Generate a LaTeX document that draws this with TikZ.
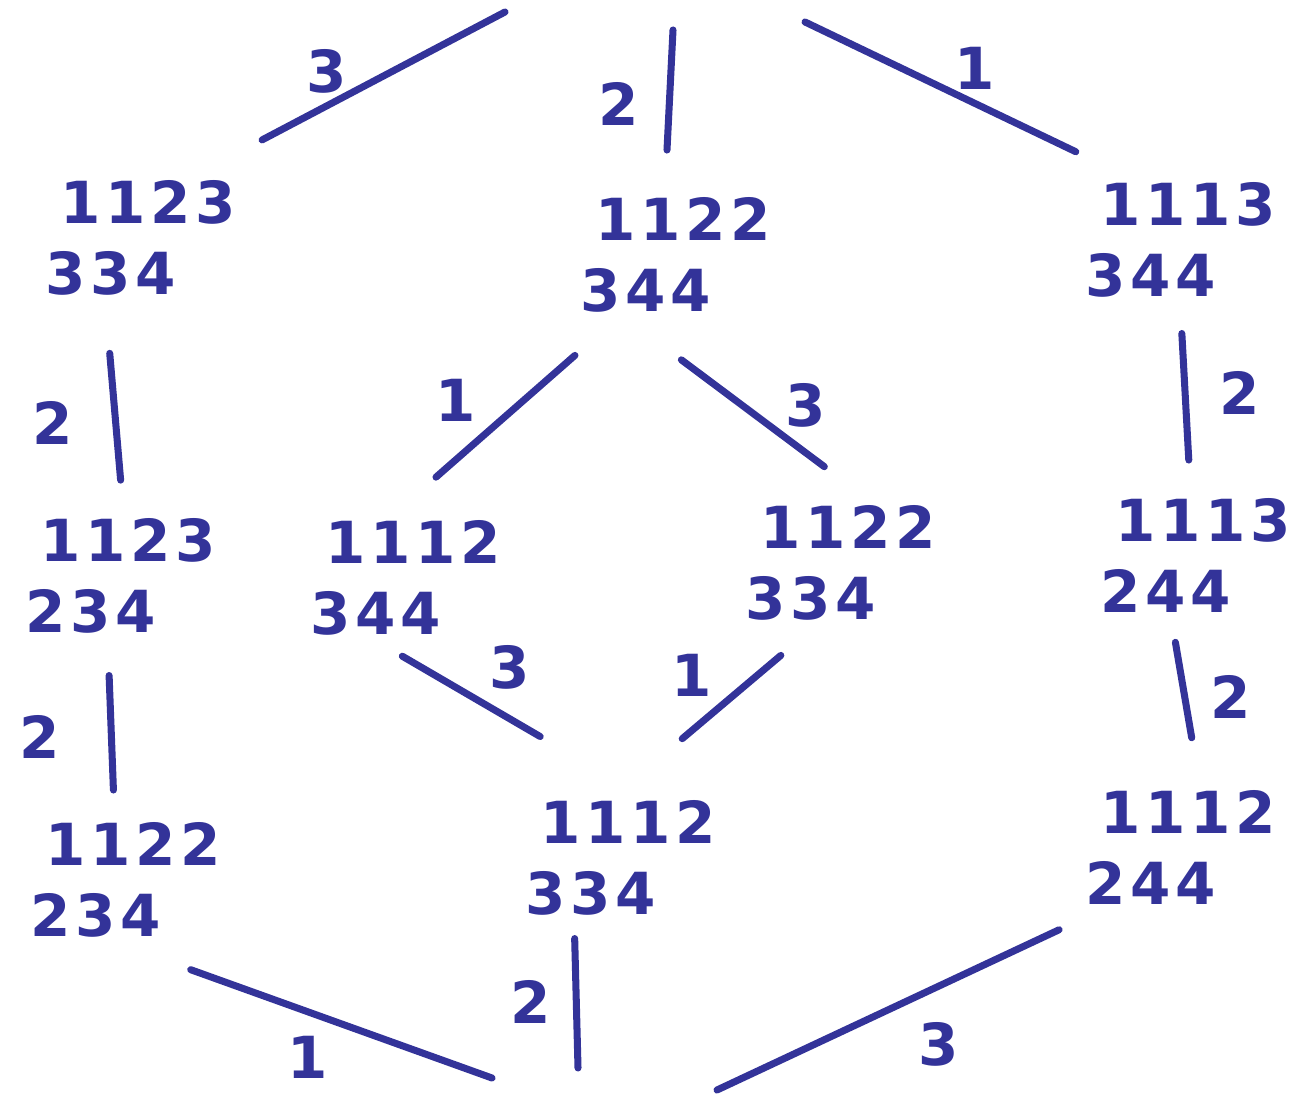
\documentclass[tikz,border=0pt]{standalone}
\usepackage{fontspec}
\setmainfont{DejaVu Sans}
\newfontfamily\hand{DejaVu Sans}[LetterSpace=8]
\usepackage{xcolor}
\definecolor{ink}{HTML}{333399}
\usepackage{tikz}
\usetikzlibrary{arrows.meta,positioning}
\tikzset{
  tab/.style ={text=ink,font=\hand\fontsize{16.5}{20}\selectfont\bfseries,
               align=left,inner sep=0pt,anchor=north west},
  lbl/.style ={text=ink,font=\fontsize{16.5}{20}\selectfont\bfseries,
               inner sep=0pt},
  flow/.style={draw=ink,line width=2pt,line cap=round},
}
\newcommand{\tabl}[2]{\hspace*{1.5mm}#1\\#2}

\begin{document}
\begin{tikzpicture}[x=0.1mm,y=-0.1mm]
\useasboundingbox (0,0) rectangle (1296,1097);
% tableaux
\node[tab] (A) at (45,180)   {\tabl{1123}{334}};
\node[tab] (B) at (580,197)  {\tabl{1122}{344}};
\node[tab] (C) at (1085,182) {\tabl{1113}{344}};
\node[tab] (D) at (25,518)   {\tabl{1123}{234}};
\node[tab] (E) at (310,520)  {\tabl{1112}{344}};
\node[tab] (F) at (745,505)  {\tabl{1122}{334}};
\node[tab] (G) at (1100,498) {\tabl{1113}{244}};
\node[tab] (H) at (30,822)   {\tabl{1122}{234}};
\node[tab] (I) at (525,800)  {\tabl{1112}{334}};
\node[tab] (J) at (1085,790) {\tabl{1112}{244}};
% loose ends, above and below the picture
\coordinate (t1) at (505,12);
\coordinate (t2) at (673,30);
\coordinate (t3) at (805,22);
\coordinate (b1) at (492,1078);
\coordinate (b2) at (578,1068);
\coordinate (b3) at (717,1090);
\foreach \a/\b/\s/\e in {A.52/t1/8.6mm/0mm, B.101/t2/4.7mm/0mm, C.126/t3/7mm/0mm,
    A.238/D.87/5.8mm/3.8mm, B.228/E.108/6.5mm/6.5mm, B.225/F.59/7.9mm/6.4mm,
    C.269/G.95/3.6mm/3.8mm, D.257.5/H.101/4.2mm/3.2mm, E.236.5/I.64.4/4.1mm/12.6mm,
    F.252/I.101/5.4mm/9.5mm, G.246/J.71/3mm/5.3mm,
    H.247.7/b1/9.5mm/0mm, I.231.8/b2/2.3mm/0mm, J.220.7/b3/5.9mm/0mm}
  \draw[flow,shorten <=\s,shorten >=\e] (\a) -- (\b);
% edge labels
\node[lbl] (l1)  at (327,71)   {3};
\node[lbl] (l2)  at (619,104)  {2};
\node[lbl] (l3)  at (975,68)   {1};
\node[lbl] (l4)  at (53,423)   {2};
\node[lbl] (l5)  at (456,400)  {1};
\node[lbl] (l6)  at (806,405)  {3};
\node[lbl] (l7)  at (1240,393) {2};
\node[lbl] (l8)  at (40,737)   {2};
\node[lbl] (l9)  at (510,667)  {3};
\node[lbl] (l10) at (692,675)  {1};
\node[lbl] (l11) at (1231,697) {2};
\node[lbl] (l12) at (308,1057) {1};
\node[lbl] (l13) at (531,1002) {2};
\node[lbl] (l14) at (939,1044) {3};
\end{tikzpicture}
\end{document}
